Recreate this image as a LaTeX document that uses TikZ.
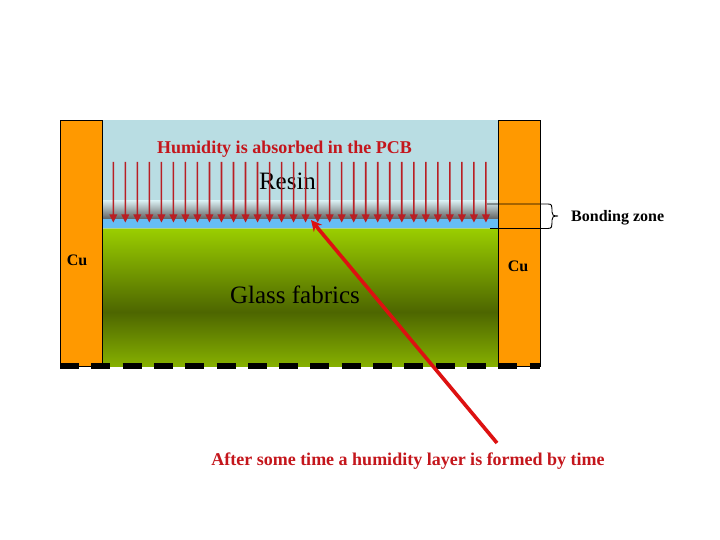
\documentclass[tikz,border=0pt]{standalone}
\usepackage{fontspec}
\setmainfont{Liberation Serif}
\usetikzlibrary{arrows.meta}
\definecolor{cuorange}{HTML}{FF9900}
\definecolor{resinblue}{HTML}{B9DDE3}
\definecolor{layerblue}{HTML}{66BDF5}
\definecolor{glasstop}{HTML}{99CC00}
\definecolor{glassmid}{HTML}{4D6600}
\definecolor{glassbot}{HTML}{86B000}
\definecolor{rain}{HTML}{B81F24}
\definecolor{leader}{HTML}{DD1111}
\definecolor{redtext}{HTML}{C4161C}
\tikzset{
  x=1pt,y=-1pt,
  cubox/.style={draw=black,line width=1pt,fill=cuorange,anchor=north west,inner sep=0pt,minimum width=42pt,minimum height=246pt},
  raintip/.style={fill=rain},
  redlabel/.style={text=redtext,font=\bfseries\fontsize{18}{20}\selectfont,inner sep=0pt},
  smalllabel/.style={font=\bfseries\fontsize{16}{18}\selectfont,inner sep=0pt},
  biglabel/.style={font=\fontsize{25}{28}\selectfont,inner sep=0pt},
}
\begin{document}
\begin{tikzpicture}
\useasboundingbox (0,0) rectangle (720,540);
% resin
\fill[resinblue] (102,120) rectangle (498,201);
\shade[top color=resinblue!60!white,bottom color=black!62] (102,201) rectangle (498,219);
\fill[layerblue] (102,219) rectangle (498,228.5);
\fill[resinblue!60!glasstop] (102,228.5) rectangle (498,230);
% glass
\shade[top color=glasstop,bottom color=glassmid] (102,230) rectangle (498,312);
\shade[top color=glassmid,bottom color=glassbot] (102,312) rectangle (498,366);
% copper
\node[cubox] (cuL) at (60,120) {};
\node[cubox] (cuR) at (498,120) {};
% dashes
\draw[black,line width=5.5pt,dash pattern=on 19pt off 12.3pt] (60,365.8) -- (540,365.8);
% labels
\node[redlabel] (humid) at (284.5,149) {Humidity is absorbed in the PCB};
\node[biglabel] (resin) at (287.5,181) {Resin};
\node[biglabel] (glass) at (295,295) {Glass fabrics};
\node[smalllabel] (cul) at (77,260) {Cu};
\node[smalllabel] (cur) at (518,266) {Cu};
\node[smalllabel,anchor=west] (bond) at (571,217.5) {Bonding zone};
\node[redlabel] (after) at (408,461) {After some time a humidity layer is formed by time};
% bonding zone bracket
\coordinate (bt) at (487,204);
\coordinate (bb) at (490,228.5);
\coordinate (btip) at (558,216);
\draw[black,line width=0.9pt] (bt) -- (548,204) .. controls (552,204) and (552,206) .. (552,209)
  -- (552,212) .. controls (552,215) and (553,216) .. (btip)
  (bb) -- (548,228.5) .. controls (552,228.5) and (552,226) .. (552,223)
  -- (552,220) .. controls (552,217) and (553,216) .. (btip);
% humidity arrows, as filled outlines
\foreach \i in {0,...,31}{
  \coordinate (rt\i) at ({113.3+12.02*\i},222.5);
}
\fill[raintip] \foreach \i in {0,...,31}{ (rt\i) -- ++(-4,-8) -- ++(3.2,0) -- ++(0,-52.5) -- ++(1.6,0) -- ++(0,52.5) -- ++(3.2,0) -- cycle };
% leader
\coordinate (ls) at (497,443);
\coordinate (le) at (311,220);
\draw[leader,line width=3.6pt,-{Stealth[length=11pt,width=11pt]}] (ls) -- (le);
\end{tikzpicture}
\end{document}
